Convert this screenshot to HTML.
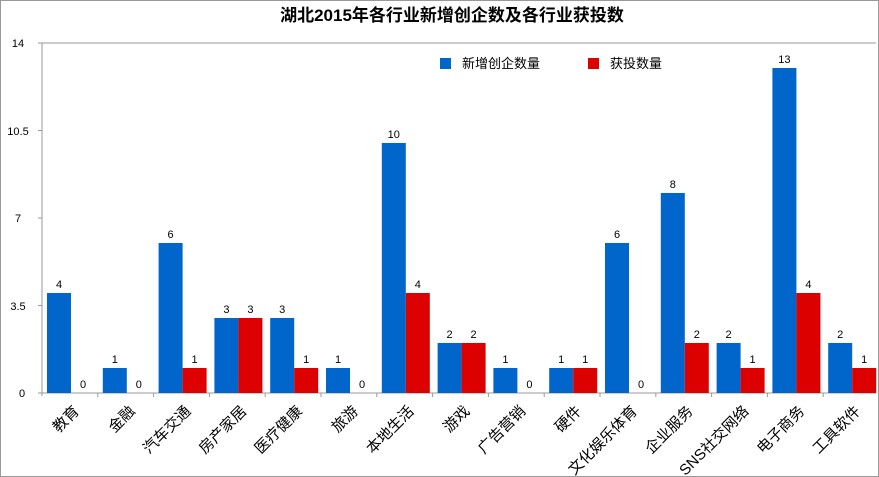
<!DOCTYPE html>
<html><head><meta charset="utf-8"><style>
html,body{margin:0;padding:0;background:#fff;}
svg{display:block;font-family:"Liberation Sans","Noto Sans CJK SC",sans-serif;}
</style></head><body>
<svg width="879" height="477" viewBox="0 0 879 477" xmlns="http://www.w3.org/2000/svg">
<rect x="0.5" y="0.5" width="878" height="476" fill="#fff" stroke="#999"/>
<text x="452" y="21" font-size="17" font-weight="bold" text-anchor="middle" fill="#000">湖北2015年各行业新增创企数及各行业获投数</text>
<line x1="38" y1="43" x2="876" y2="43" stroke="#999"/>
<line x1="42" y1="43" x2="42" y2="396" stroke="#999"/>
<line x1="38" y1="393" x2="876" y2="393" stroke="#999"/>
<g stroke="#999"><line x1="38" y1="130.5" x2="42" y2="130.5"/><line x1="38" y1="218" x2="42" y2="218"/><line x1="38" y1="305.5" x2="42" y2="305.5"/></g>
<g font-size="11" fill="#000" text-anchor="middle">
<text x="18" y="47">14</text><text x="18" y="135">10.5</text><text x="18" y="222">7</text><text x="18" y="310">3.5</text><text x="22" y="397">0</text>
</g>
<rect x="440" y="58" width="11" height="11" fill="#0066cc"/>
<text x="462" y="68" font-size="13" fill="#000">新增创企数量</text>
<rect x="588" y="58" width="11" height="11" fill="#dd0000"/>
<text x="610" y="68" font-size="13" fill="#000">获投数量</text>

<g fill="#0066cc">
<rect x="47" y="293" width="24" height="100"/>
<rect x="102.8" y="368" width="24" height="25"/>
<rect x="158.6" y="243" width="24" height="150"/>
<rect x="214.4" y="318" width="24" height="75"/>
<rect x="270.2" y="318" width="24" height="75"/>
<rect x="326" y="368" width="24" height="25"/>
<rect x="381.8" y="143" width="24" height="250"/>
<rect x="437.6" y="343" width="24" height="50"/>
<rect x="493.4" y="368" width="24" height="25"/>
<rect x="549.2" y="368" width="24" height="25"/>
<rect x="605" y="243" width="24" height="150"/>
<rect x="660.8" y="193" width="24" height="200"/>
<rect x="716.6" y="343" width="24" height="50"/>
<rect x="772.4" y="68" width="24" height="325"/>
<rect x="828.2" y="343" width="24" height="50"/>
</g>
<g fill="#dd0000">
<rect x="182.6" y="368" width="24" height="25"/>
<rect x="238.4" y="318" width="24" height="75"/>
<rect x="294.2" y="368" width="24" height="25"/>
<rect x="405.8" y="293" width="24" height="100"/>
<rect x="461.6" y="343" width="24" height="50"/>
<rect x="573.2" y="368" width="24" height="25"/>
<rect x="684.8" y="343" width="24" height="50"/>
<rect x="740.6" y="368" width="24" height="25"/>
<rect x="796.4" y="293" width="24" height="100"/>
<rect x="852.2" y="368" width="24" height="25"/>
</g>
<g font-size="11" fill="#000" text-anchor="middle">
<text x="59" y="288">4</text><text x="83" y="388">0</text>
<text x="114.8" y="363">1</text><text x="138.8" y="388">0</text>
<text x="170.6" y="238">6</text><text x="194.6" y="363">1</text>
<text x="226.4" y="313">3</text><text x="250.4" y="313">3</text>
<text x="282.2" y="313">3</text><text x="306.2" y="363">1</text>
<text x="338" y="363">1</text><text x="362" y="388">0</text>
<text x="393.8" y="138">10</text><text x="417.8" y="288">4</text>
<text x="449.6" y="338">2</text><text x="473.6" y="338">2</text>
<text x="505.4" y="363">1</text><text x="529.4" y="388">0</text>
<text x="561.2" y="363">1</text><text x="585.2" y="363">1</text>
<text x="617" y="238">6</text><text x="641" y="388">0</text>
<text x="672.8" y="188">8</text><text x="696.8" y="338">2</text>
<text x="728.6" y="338">2</text><text x="752.6" y="363">1</text>
<text x="784.4" y="63">13</text><text x="808.4" y="288">4</text>
<text x="840.2" y="338">2</text><text x="864.2" y="363">1</text>
</g>
<g stroke="#999">
<line x1="97.8" y1="393" x2="97.8" y2="397"/><line x1="153.6" y1="393" x2="153.6" y2="397"/><line x1="209.4" y1="393" x2="209.4" y2="397"/><line x1="265.2" y1="393" x2="265.2" y2="397"/><line x1="321" y1="393" x2="321" y2="397"/><line x1="376.8" y1="393" x2="376.8" y2="397"/><line x1="432.6" y1="393" x2="432.6" y2="397"/><line x1="488.4" y1="393" x2="488.4" y2="397"/><line x1="544.2" y1="393" x2="544.2" y2="397"/><line x1="600" y1="393" x2="600" y2="397"/><line x1="655.8" y1="393" x2="655.8" y2="397"/><line x1="711.6" y1="393" x2="711.6" y2="397"/><line x1="767.4" y1="393" x2="767.4" y2="397"/><line x1="823.2" y1="393" x2="823.2" y2="397"/>
</g>
<g font-size="15" fill="#000" text-anchor="end">
<text x="80" y="412" transform="rotate(-45 80 412)">教育</text>
<text x="135.8" y="412" transform="rotate(-45 135.8 412)">金融</text>
<text x="191.6" y="412" transform="rotate(-45 191.6 412)">汽车交通</text>
<text x="247.4" y="412" transform="rotate(-45 247.4 412)">房产家居</text>
<text x="303.2" y="412" transform="rotate(-45 303.2 412)">医疗健康</text>
<text x="359" y="412" transform="rotate(-45 359 412)">旅游</text>
<text x="414.8" y="412" transform="rotate(-45 414.8 412)">本地生活</text>
<text x="470.6" y="412" transform="rotate(-45 470.6 412)">游戏</text>
<text x="526.4" y="412" transform="rotate(-45 526.4 412)">广告营销</text>
<text x="582.2" y="412" transform="rotate(-45 582.2 412)">硬件</text>
<text x="638" y="412" transform="rotate(-45 638 412)">文化娱乐体育</text>
<text x="693.8" y="412" transform="rotate(-45 693.8 412)">企业服务</text>
<text x="749.6" y="412" transform="rotate(-45 749.6 412)">SNS社交网络</text>
<text x="805.4" y="412" transform="rotate(-45 805.4 412)">电子商务</text>
<text x="861.2" y="412" transform="rotate(-45 861.2 412)">工具软件</text>
</g>
</svg>
</body></html>
